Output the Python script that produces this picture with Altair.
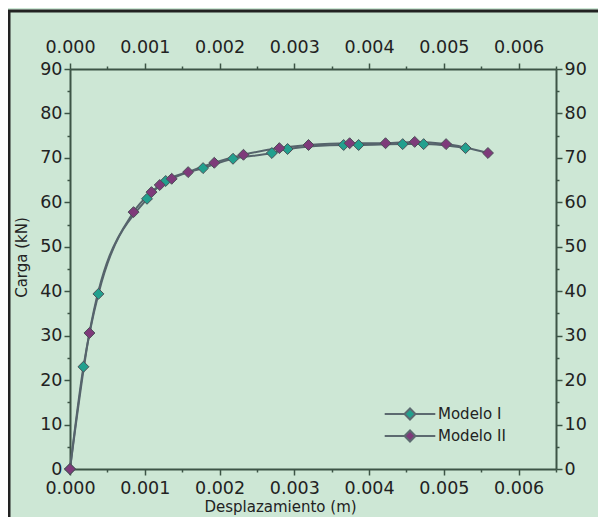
import altair as alt
import pandas as pd

# Data
m1_x = [0.0, 0.00018, 0.00038, 0.00103, 0.00128, 0.00178, 0.00218, 0.00270, 0.00291,
        0.00366, 0.00386, 0.00445, 0.00473, 0.00529]
m1_y = [0.0, 23.0, 39.4, 60.8, 64.8, 67.7, 69.8, 71.1, 72.0, 72.9, 72.9, 73.1, 73.1, 72.2]

m2_x = [0.0, 0.00026, 0.00085, 0.00109, 0.00120, 0.00136, 0.00158, 0.00193, 0.00232,
        0.00280, 0.00319, 0.00374, 0.00422, 0.00461, 0.00503, 0.00559]
m2_y = [0.0, 30.6, 57.8, 62.3, 63.9, 65.3, 66.8, 68.9, 70.7, 72.2, 72.9, 73.3, 73.3,
        73.6, 73.1, 71.1]

series_names = ["Modelo I", "Modelo II"]
series_colors = ["#22a08e", "#7e3a7a"]

x_ticks = [round(i * 0.0005, 4) for i in range(14)]
y_ticks = list(range(0, 95, 5))

df = pd.concat([
    pd.DataFrame({"x": m1_x, "y": m1_y, "serie": series_names[0], "ord": range(len(m1_x))}),
    pd.DataFrame({"x": m2_x, "y": m2_y, "serie": series_names[1], "ord": range(len(m2_x))}),
])

FONT = "DejaVu Sans"
AX = "#3d5446"
TXT = "#222222"
xlab = "abs(round(datum.value*1000) - datum.value*1000) < 1e-6 ? format(datum.value, '.3f') : ''"
ylab = "datum.value % 10 === 0 ? datum.label : ''"
xtick_size = {"condition": {"test": "abs(round(datum.value*1000) - datum.value*1000) < 1e-6", "value": 6}, "value": 3}
ytick_size = {"condition": {"test": "datum.value % 10 === 0", "value": 6}, "value": 3}

xscale = alt.Scale(domain=[0, 0.0065], nice=False, zero=False)
yscale = alt.Scale(domain=[0, 90], nice=False)

def common():
    return dict(labelOverlap=False, labelFlush=False, grid=False, domainColor=AX, domainWidth=2,
                tickColor=AX, tickWidth=1.5, labelFontSize=17.5, labelFont=FONT,
                labelColor=TXT, titleFontSize=15, titleFont=FONT,
                titleFontWeight="normal", titleColor=TXT)

def xaxis(orient, title):
    kw = common()
    kw.update(orient=orient, values=x_ticks, labelExpr=xlab, tickSize=xtick_size,
              labelPadding=4 if orient == "bottom" else 7)
    if title:
        kw.update(title=title, titlePadding=3, titleX=210)
    else:
        kw.update(title="")
    return alt.Axis(**kw)

def yaxis(orient, title):
    kw = common()
    kw.update(orient=orient, values=y_ticks, labelExpr=ylab, tickSize=ytick_size,
              labelPadding=2)
    if title:
        kw.update(title=title, titlePadding=10, titleY=188)
    else:
        kw.update(title="")
    return alt.Axis(**kw)

base = alt.Chart(df)

lines = base.mark_line(interpolate="monotone", color="#56646c", strokeWidth=2).encode(
    x=alt.X("x:Q", scale=xscale, axis=xaxis("bottom", "Desplazamiento (m)")),
    y=alt.Y("y:Q", scale=yscale, axis=yaxis("left", "Carga (kN)")),
    detail="serie:N",
    order="ord:Q",
)

legend_path = "M-2.3,0L-0.5,0M0.5,0L2.3,0M-0.5,0L0,-0.5L0.5,0L0,0.5Z"

points = base.mark_point(shape="diamond", size=120, filled=True, opacity=1,
                         stroke="#4b5058", strokeWidth=1).encode(
    x=alt.X("x:Q", scale=xscale, axis=xaxis("top", None)),
    y=alt.Y("y:Q", scale=yscale, axis=yaxis("right", None)),
    fill=alt.Fill("serie:N",
                  scale=alt.Scale(domain=series_names, range=series_colors),
                  legend=alt.Legend(orient="none", legendX=328, legendY=333, title=None,
                                    symbolType=legend_path, symbolSize=484,
                                    symbolStrokeColor="#5c6a70", symbolStrokeWidth=2,
                                    symbolOpacity=1, labelFontSize=15, labelFont=FONT,
                                    labelColor=TXT, labelOffset=16, rowPadding=0,
                                    padding=0)),
)

frame_top = alt.Chart(pd.DataFrame({"k": [0]})).mark_rule(color="#222222", strokeWidth=3).encode(
    x=alt.value(-62), x2=alt.value(540), y=alt.value(-58))
frame_left = alt.Chart(pd.DataFrame({"k": [0]})).mark_rule(color="#222222", strokeWidth=3).encode(
    x=alt.value(-61), y=alt.value(-58), y2=alt.value(460))

chart = alt.layer(lines, points, frame_top, frame_left).properties(
    width=486, height=400,
    background="#cde7d5",
    padding={"left": 62, "top": 61, "right": 42, "bottom": 48},
    autosize=alt.AutoSizeParams(type="none"),
).configure_view(stroke=None)

chart.save("out.html", embed_options={"renderer": "svg", "actions": False})
